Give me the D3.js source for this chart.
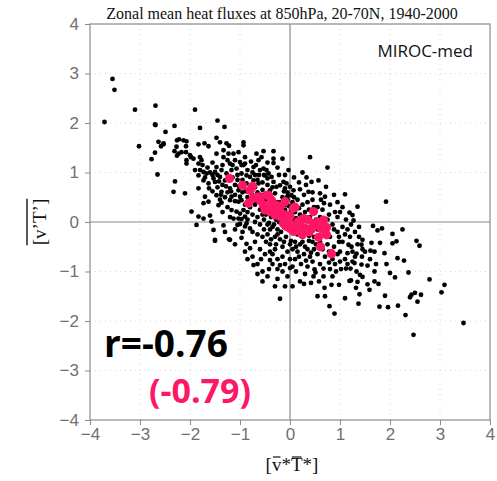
<!DOCTYPE html>
<html><head><meta charset="utf-8">
<script src="https://cdn.jsdelivr.net/npm/d3@7"></script>
<style>
html,body{margin:0;padding:0;background:#fff;}
svg{display:block;}
</style>
</head><body>
<svg id="chart" width="497" height="481"></svg>
<script>
// ---- data ----
const titleText = "Zonal mean heat fluxes at 850hPa, 20-70N, 1940-2000";
const modelName = "MIROC-med";
const corrAll = "r=-0.76";
const corrMean = "(-0.79)";
const xTicks = [-4,-3,-2,-1,0,1,2,3,4];
const yTicks = [-4,-3,-2,-1,0,1,2,3,4];

const blackPts = [
[-3.71,2.02],[-3.55,2.89],[-3.51,2.67],[-3.10,2.27],[-3.02,1.53],[-2.77,1.27],[-2.70,1.40],[-2.69,2.35],[-2.69,1.96],[-2.65,0.96],[-2.63,1.62],[-2.58,1.53],[-2.53,1.59],[-2.70,1.97],
[-2.49,1.82],[-2.31,1.94],[-2.26,1.65],[-2.22,1.67],[-2.13,1.65],[-2.07,1.63],[-2.27,1.52],[-2.08,1.53],[-2.31,1.43],[-2.17,1.41],[-2.08,1.41],[-2.26,1.34],[-2.07,1.25],[-1.98,1.31],[-2.23,1.38],[-2.00,1.35],[-2.07,1.18],[-2.30,0.82],[-2.33,0.61],[-2.10,0.58],[-2.53,1.57],
[-1.90,2.27],[-1.80,1.90],[-1.83,1.57],[-1.71,1.59],[-1.63,1.53],[-1.80,1.31],[-1.77,1.25],[-1.83,1.18],[-1.90,1.05],[-1.80,1.05],[-1.73,1.01],[-1.67,0.98],[-1.83,0.94],[-1.83,0.68],[-1.73,0.84],[-1.63,0.78],[-1.50,0.81],[-1.53,0.88],[-1.70,0.51],[-1.63,0.41],[-1.73,0.38],[-1.97,0.21],[-1.83,0.11],[-1.73,0.07],[-1.60,0.13],[-1.57,0.01],[-1.87,-0.06],[-1.53,-0.16],[-1.93,1.28],
[-1.47,1.11],[-1.50,1.01],[-1.37,1.05],[-1.27,0.98],[-1.40,0.91],[-1.30,0.84],[-1.17,1.05],[-1.07,1.08],[-0.97,0.98],[-0.87,0.94],[-1.47,0.54],[-1.37,0.61],[-1.20,0.68],[-1.03,0.64],[-1.17,0.51],[-0.93,0.71],[-1.00,0.51],
[-1.75,1.15],[-1.65,1.10],[-1.60,1.00],[-1.55,0.95],[-1.70,0.90],
[-1.45,2.05],[-1.31,1.92],[-1.47,1.70],[-1.40,1.61],[-1.27,1.59],[-1.22,1.54],[-1.47,1.38],[-1.33,1.45],[-1.33,1.31],[-1.23,1.38],[-1.13,1.38],[-1.03,1.41],[-1.10,1.25],[-1.20,1.18],[-1.00,1.21],[-0.93,1.15],[-1.43,0.34],[-1.37,0.39],[-1.20,0.44],[-1.10,0.42],[-1.03,0.41],[-1.17,0.24],[-1.07,0.21],[-1.00,0.17],[-1.13,0.07],[-1.03,0.07],[-1.33,-0.07],[-1.50,-0.38],[-1.22,-0.35],[-1.05,-0.06],
[-1.45,0.70],[-1.35,0.75],[-1.25,0.60],[-1.10,0.75],[-1.05,0.85],[-1.15,0.90],[-1.30,0.50],[-1.40,0.45],[-1.10,0.55],[-1.25,0.30],[-1.35,0.20],[-1.20,0.10],[-1.10,-0.15],[-1.30,-0.20],
[-0.97,0.44],[-0.93,0.24],[-0.97,0.06],[-0.90,0.11],[-0.87,-0.03],[-0.90,-0.09],[-0.80,-0.13],[-1.00,-0.04],[-0.97,-0.32],[-0.87,-0.44],[-0.80,-0.53],[-0.93,1.61],[-0.93,1.55],[-0.90,1.31],[-0.90,1.18],[-0.97,1.15],[-0.67,1.38],[-0.53,1.43],[-0.57,1.31],[-0.63,1.25],[-0.68,1.15],[-0.73,1.11],[-0.53,1.08],[-0.80,0.91],[-0.73,0.84],[-0.63,0.78],[-0.87,0.78],[-0.93,0.71],
[-0.95,0.60],[-0.85,0.50],[-0.75,0.55],[-0.65,0.60],[-0.55,0.65],[-0.90,0.35],[-0.80,0.30],[-0.70,0.35],[-0.60,0.25],[-0.85,0.20],[-0.75,0.15],[-0.65,0.10],[-0.55,0.15],[-0.70,0.00],[-0.60,-0.05],[-0.75,-0.20],[-0.65,-0.25],[-0.55,-0.30],[-0.95,-0.20],[-0.70,-0.40],[-0.60,-0.55],[-0.85,0.05],[-0.60,0.45],[-0.70,0.70],[-0.80,0.65],[-0.52,0.95],[-0.62,0.95],[-0.75,1.00],[-0.58,-0.75],[-0.75,-0.70],[-0.55,-1.00],
[-1.50,-0.36],[-1.20,-0.36],[-0.73,-0.87],[-0.40,-0.77],[-0.20,-0.87],[0.00,-0.93],[-0.10,-1.30],
[-0.85,-0.75],[-0.45,-1.10],[-0.30,-1.30],[-0.65,-1.05],[-0.20,-1.55],[-0.35,-0.65],[-0.15,-0.70],[-0.25,-0.95],[-0.05,-1.10],[-0.90,-0.60],[-1.10,-0.45],[-0.40,-0.45],[-0.30,-0.55],
[-0.33,1.43],[-0.33,1.28],[-0.33,1.19],[-0.15,1.28],[-0.47,1.05],[-0.50,0.94],[-0.43,0.98],[-0.37,0.91],[-0.13,0.81],[-0.07,0.78],[-0.20,0.74],[-0.10,0.68],[-0.03,1.05],[-0.33,0.81],[-0.27,0.71],[-0.40,0.64],[-0.30,0.58],
[-0.45,0.75],[-0.35,0.45],[-0.25,0.40],[-0.15,0.50],[-0.05,0.45],[-0.45,0.30],[-0.30,0.25],[-0.20,0.30],[-0.10,0.25],[-0.48,0.15],[-0.38,0.10],[-0.28,0.05],[-0.15,0.05],[-0.05,0.10],[-0.45,-0.05],[-0.35,-0.10],[-0.25,-0.15],[-0.12,-0.10],[-0.02,-0.05],[-0.45,-0.25],[-0.30,-0.30],[-0.20,-0.35],[-0.08,-0.30],[-0.40,-0.60],[-0.15,-0.50],[-0.05,-0.60],[-0.25,-0.75],[-0.10,-0.85],[-0.42,0.55],[-0.05,0.60],[-0.22,0.95],[-0.12,0.62],[-0.38,0.35],[-0.02,0.32],[-0.40,-0.15],[-0.18,-0.20],[-0.32,0.15],[-0.08,0.18],[-0.48,-0.40],[-0.28,-0.45],[-0.45,1.20],[-0.25,1.10],[-0.10,0.95],[-0.35,0.70],
[0.40,1.31],[0.33,0.90],[0.43,0.81],[0.20,0.66],[0.37,0.61],[0.07,0.64],[0.03,0.54],[0.00,0.71],[0.05,-0.90],[0.42,-1.23],[0.49,-0.96],
[0.05,0.40],[0.15,0.45],[0.25,0.35],[0.35,0.40],[0.45,0.45],[0.10,0.20],[0.20,0.15],[0.30,0.20],[0.40,0.10],[0.05,0.05],[0.15,-0.05],[0.25,0.00],[0.35,-0.10],[0.45,-0.05],[0.05,-0.20],[0.15,-0.25],[0.25,-0.30],[0.40,-0.25],[0.10,-0.40],[0.20,-0.45],[0.30,-0.50],[0.45,-0.40],[0.05,-0.55],[0.15,-0.60],[0.28,-0.65],[0.40,-0.70],[0.10,-0.75],[0.22,-0.85],[0.35,-0.90],[0.45,-0.80],[0.12,-1.00],[0.30,-1.05],[0.20,-1.20],[0.08,0.90],[0.18,0.80],[0.28,0.55],[0.48,0.30],[0.02,0.25],[0.32,0.75],[0.12,0.32],[0.38,-0.38],[0.48,-0.55],[0.22,-0.12],[0.02,-0.38],[0.33,-0.18],[0.47,-1.10],[0.25,1.00],[0.45,0.60],
[0.75,1.10],[0.57,0.84],[0.72,0.71],[0.60,0.58],[0.70,0.51],[0.55,-1.50],[0.70,-1.50],[0.69,-1.33],[0.83,-1.27],[0.98,-1.27],[0.89,-1.85],[0.79,-1.70],[0.67,-0.94],[0.67,-1.10],[0.51,-1.02],
[0.55,0.30],[0.65,0.25],[0.80,0.35],[0.90,0.20],[0.60,0.10],[0.75,0.05],[0.85,-0.05],[0.95,0.10],[0.55,-0.15],[0.70,-0.20],[0.80,-0.30],[0.95,-0.20],[0.60,-0.40],[0.75,-0.45],[0.88,-0.50],[0.98,-0.40],[0.55,-0.65],[0.70,-0.70],[0.85,-0.75],[0.95,-0.65],[0.60,-0.85],[0.80,-0.95],[0.92,-1.00],[0.85,-1.10],[0.62,0.45],[0.88,0.55],[0.95,0.40],[0.52,0.05],[0.78,-0.60],[0.58,-1.20],
[1.05,0.30],[1.19,0.19],[1.25,0.14],[1.27,0.03],[1.35,0.31],[1.45,-0.55],[1.43,-0.46],[1.45,-0.36],[1.33,-0.64],[1.44,-0.70],[1.37,-1.65],[1.10,-1.54],[1.32,-1.33],[1.39,-1.46],[1.19,-1.19],[1.22,-1.18],[1.35,-1.21],[1.45,-1.11],[1.40,-1.07],[1.33,-1.00],[1.02,-0.95],[1.12,-0.94],[1.21,-0.94],[1.43,-0.86],[1.29,-0.83],[1.30,-0.70],[1.15,-0.63],[1.23,-0.50],[1.17,-0.46],
[1.05,-0.10],[1.10,-0.25],[1.20,-0.30],[1.05,-0.40],[1.10,-0.75],[1.00,-0.60],[1.30,-0.20],[1.38,-0.10],[1.12,0.05],[1.25,-0.80],[1.10,0.56],
[1.92,0.41],[1.66,-0.08],[1.75,-0.17],[1.84,-0.13],[1.61,-0.58],[1.69,-0.60],[1.89,-0.63],[1.69,-1.00],[1.93,-0.85],[1.90,-1.49],[1.79,-1.71],[1.96,-1.72],[1.55,-1.26],[1.59,-1.37],[1.69,-1.20],[1.77,-1.25],[1.55,-0.88],[1.63,-0.42],[1.80,-0.42],
[2.05,-0.24],[2.25,-0.15],[2.13,-0.39],[2.05,-0.43],[2.53,-0.38],[2.59,-0.48],[2.15,-0.73],[2.28,-0.78],[2.00,-1.03],[2.10,-1.12],[2.37,-1.02],[2.79,-1.16],[3.09,-1.27],[3.03,-1.42],[2.40,-1.52],[2.43,-1.47],[2.50,-1.43],[2.55,-1.61],[2.62,-1.47],[3.47,-2.04],[2.47,-2.28],[2.31,-1.88],[2.16,-1.69],
[-1.55,1.20],[-1.45,0.95],[-1.35,1.15],[-1.25,1.25],[-1.15,1.15],[-1.05,0.95],[-0.95,0.85],[-0.85,1.05],[-0.78,1.22],[-0.70,0.95],[-0.60,1.05],[-0.65,0.85],[-0.55,0.80],[-0.45,0.88],[-1.28,0.72],[-1.18,0.62],[-1.02,0.72],[-0.88,0.62],[-0.78,0.45],[-0.68,0.42],[-0.58,0.55],[-1.38,0.55],[-1.55,0.62],[-1.62,0.68],[-1.42,0.82],
[-0.52,0.05],[-0.42,-0.02],[-0.32,-0.05],[-0.22,0.00],[-0.12,-0.02],[0.08,-0.08],[0.18,-0.15],[0.28,-0.20],[0.38,-0.28],[0.48,-0.30],[-0.52,-0.15],[-0.38,-0.35],[-0.25,-0.25],[-0.12,-0.40],[0.00,-0.45],[0.12,-0.50],[0.25,-0.40],[0.35,-0.55],[0.42,-0.62],[0.52,-0.45],[-0.30,0.35],[-0.18,0.40],[-0.08,0.35],[0.02,0.15],[0.12,0.08],[0.22,0.08],[0.32,0.10],[0.42,0.02],[-0.58,0.35],[-0.50,0.45],[-0.05,0.52],[0.08,0.50],[0.18,0.28],[0.38,0.25],
[-0.65,-0.85],[-0.50,-0.65],[-0.35,-0.85],[-0.15,-1.00],[0.00,-0.75],[0.18,-0.70],[0.32,-0.78],[-0.42,-0.95],[-0.55,-1.20],[0.05,-1.30],[0.28,-1.25],[-0.25,-1.15],
[0.65,-0.55],[0.78,-0.82],[0.90,-0.85],[1.00,-0.80],[1.15,-0.85],[1.25,-0.60],[1.35,-0.45],[1.15,-0.15],[0.98,-0.30],[0.88,-0.15],[0.78,0.15],[0.68,0.38],[1.00,0.20],[1.22,-0.05],[1.38,-0.30],[1.50,-0.60],[1.60,-0.75],[1.72,-0.85]
];

const pinkPts = [
[-1.21,0.88],[-0.95,0.74],[-0.75,0.72],[-0.80,0.64],[-0.83,0.38],[-0.73,0.48],[-0.47,0.54],[-0.37,0.44],[-0.60,0.44],[-0.53,0.34],[-0.43,0.34],[-0.33,0.28],[-0.40,0.21],[-0.27,0.21],[-0.17,0.17],[-0.10,0.41],[0.10,0.30],[-0.20,0.11],[-0.10,0.07],[-0.03,0.01],[-0.13,-0.03],[0.03,-0.06],[0.13,-0.09],[0.20,-0.19],[0.10,-0.16],[0.27,0.07],[0.47,0.21],[0.47,-0.03],[0.43,-0.14],[0.67,0.04],[0.73,-0.11],[0.73,-0.26],[0.57,-0.31],[0.61,-0.50],[0.83,-0.64],
[-0.27,0.34],[-0.20,0.31],[-0.30,0.14],[-0.07,0.14],[0.00,0.11],[0.17,0.01],[0.20,-0.06],[0.30,-0.13],[-0.07,-0.09],[0.00,-0.13],[0.07,-0.19],[-0.43,0.54],[-0.37,0.31],[-0.50,0.24],[-0.63,0.51],
[0.07,0.28],[0.35,0.05],[0.55,0.00],[0.65,-0.15],[0.38,-0.20],[0.25,-0.25],[0.60,-0.10]
];

// ---- drawing ----
const svg = d3.select("#chart");
const x = d3.scaleLinear().domain([-4,4]).range([90,490]);
const y = d3.scaleLinear().domain([-4,4]).range([420,24]);
const fmt = d => d < 0 ? "\u2212" + Math.abs(d) : String(d);
const gray = "#8a8a8a";

// faint dotted grid
const grid = svg.append("g");
grid.selectAll("line.gx").data(xTicks.filter(d => d > -4 && d < 4 && d !== 0)).join("line")
  .attr("x1", d => x(d)).attr("x2", d => x(d)).attr("y1", y(4)).attr("y2", y(-4))
  .attr("stroke", "#d8d8d8").attr("stroke-dasharray", "1,4");
grid.selectAll("line.gy").data(yTicks.filter(d => d > -4 && d < 4 && d !== 0)).join("line")
  .attr("y1", d => y(d)).attr("y2", d => y(d)).attr("x1", x(-4)).attr("x2", x(4))
  .attr("stroke", "#d8d8d8").attr("stroke-dasharray", "1,4");

// axes
const xAxis = d3.axisBottom(x).tickValues(xTicks).tickSize(5).tickPadding(3).tickFormat(fmt);
const yAxis = d3.axisLeft(y).tickValues(yTicks).tickSize(5).tickPadding(6).tickFormat(fmt);
const gx = svg.append("g").attr("transform", `translate(0,${y(-4)})`).call(xAxis);
const gy = svg.append("g").attr("transform", `translate(${x(-4)},0)`).call(yAxis);
[gx, gy].forEach(g => {
  g.select(".domain").remove();
  g.selectAll(".tick line").attr("stroke", gray);
  g.selectAll(".tick text").attr("fill", "#707070").style("font-family", "'Liberation Sans', Arial, sans-serif").style("font-size", "17px");
});

// frame
svg.append("rect").attr("x", x(-4)).attr("y", y(4)).attr("width", x(4)-x(-4)).attr("height", y(-4)-y(4))
  .attr("fill", "none").attr("stroke", gray).attr("stroke-width", 1.2);

// zero lines
svg.append("line").attr("x1", x(0)).attr("x2", x(0)).attr("y1", y(4)).attr("y2", y(-4)).attr("stroke", gray).attr("stroke-width", 1.2);
svg.append("line").attr("y1", y(0)).attr("y2", y(0)).attr("x1", x(-4)).attr("x2", x(4)).attr("stroke", gray).attr("stroke-width", 1.2);

// points
svg.append("g").selectAll("circle").data(blackPts).join("circle")
  .attr("cx", d => x(d[0])).attr("cy", d => y(d[1])).attr("r", 2.4).attr("fill", "#000");
svg.append("g").selectAll("circle").data(pinkPts).join("circle")
  .attr("cx", d => x(d[0])).attr("cy", d => y(d[1])).attr("r", 4.6).attr("fill", "#fe1667");

// title
svg.append("text").attr("x", 282).attr("y", 19).attr("text-anchor", "middle")
  .style("font-family", "'Liberation Serif', 'Times New Roman', serif").style("font-size", "16px").attr("fill", "#111")
  .text(titleText);

// model name
svg.append("text").attr("x", 473).attr("y", 57).attr("text-anchor", "end")
  .style("font-family", "'Open Sans', sans-serif").style("font-size", "17px").attr("fill", "#111")
  .text(modelName);

// correlations
svg.append("text").attr("x", 104).attr("y", 357)
  .style("font-family", "'Open Sans', sans-serif").style("font-size", "37px").style("font-weight", "bold").attr("fill", "#000")
  .text(corrAll);
svg.append("text").attr("x", 149).attr("y", 403)
  .style("font-family", "'Open Sans', sans-serif").style("font-size", "34px").style("font-weight", "bold").attr("fill", "#fe1667")
  .text(corrMean);

// x label  [v̄*T̄*]
const xl = svg.append("text").attr("x", x(0)+2).attr("y", 471).attr("text-anchor", "middle")
  .style("font-family", "'Liberation Serif', 'Times New Roman', serif").style("font-size", "19px").attr("fill", "#111")
  .text("[v*T*]");
const xn = xl.node();
[1, 3].forEach(i => {
  const e = xn.getExtentOfChar(i);
  svg.append("line").attr("x1", e.x + 1).attr("x2", e.x + e.width - 1)
    .attr("y1", 457).attr("y2", 457).attr("stroke", "#111").attr("stroke-width", 1.2);
});

// y label  overline [v'T']
const yg = svg.append("g").attr("transform", `translate(46,${y(0)}) rotate(-90)`);
const yl = yg.append("text").attr("x", 0).attr("y", 0).attr("text-anchor", "middle")
  .style("font-family", "'Liberation Serif', 'Times New Roman', serif").style("font-size", "19px").attr("fill", "#111")
  .text("[v\u2019T\u2019]");
const yb = yl.node().getBBox();
yg.append("line").attr("x1", yb.x).attr("x2", yb.x + yb.width).attr("y1", -19).attr("y2", -19)
  .attr("stroke", "#111").attr("stroke-width", 1.4);
</script>
</body></html>
